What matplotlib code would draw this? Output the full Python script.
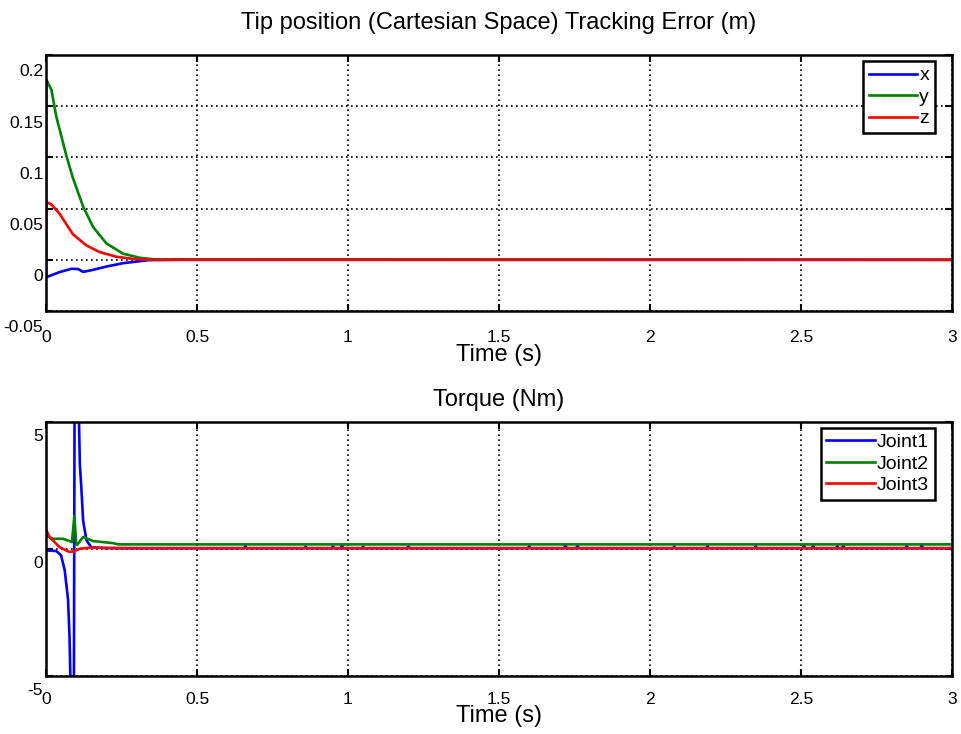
import matplotlib
matplotlib.use('Agg')
import matplotlib.pyplot as plt
from matplotlib.transforms import ScaledTranslation

plt.rcParams['font.family'] = ['Liberation Sans', 'DejaVu Sans']

# Tracking error (m)
t_x = [0, 0.001, 0.045, 0.084, 0.106, 0.123, 0.156, 0.2, 0.255, 0.31, 0.34, 0.45, 3.0]
err_x = [0, -0.017, -0.012, -0.0088, -0.009, -0.0118, -0.0098, -0.0066, -0.0033, -0.0014, -0.0003, 0, 0]

t_y = [0, 0.001, 0.018, 0.034, 0.068, 0.089, 0.123, 0.156, 0.2, 0.255, 0.31, 0.36, 3.0]
err_y = [0, 0.176, 0.166, 0.140, 0.101, 0.080, 0.052, 0.032, 0.016, 0.006, 0.002, 0.0004, 0]

t_z = [0, 0.001, 0.018, 0.045, 0.089, 0.134, 0.178, 0.233, 0.29, 0.35, 3.0]
err_z = [0, 0.0565, 0.054, 0.045, 0.025, 0.014, 0.0075, 0.003, 0.0008, 0, 0]

# Torque (Nm)
t_j1 = [0, 0.034, 0.05, 0.062, 0.073, 0.078, 0.0815, 0.083, 0.092, 0.095, 0.107, 0.109,
        0.112, 0.117, 0.123, 0.134, 0.15, 0.2]
tau_j1 = [-0.07, -0.09, -0.26, -0.85, -2.0, -3.5, -5.5, -8, -8, 8, 8, 5.2,
          3.35, 2.4, 1.1, 0.33, 0.06, 0.02]
j1_final = 0.02
blip_t = [0.66, 0.86, 0.95, 0.98, 1.05, 1.2, 1.6, 1.72, 1.76, 2.08, 2.19, 2.35,
          2.51, 2.54, 2.62, 2.64, 2.85, 2.9]
blip_h = [0.08, 0.06, 0.08, 0.1, 0.06, 0.08, 0.08, 0.12, 0.1, 0.06, 0.08, 0.08,
          0.1, 0.1, 0.08, 0.1, 0.1, 0.12]

t_j2 = [0, 0.023, 0.056, 0.078, 0.086, 0.094, 0.1, 0.103, 0.123, 0.156, 0.222, 0.24, 3.0]
tau_j2 = [0.52, 0.39, 0.39, 0.30, 0.26, 1.3, 0.2, 0.15, 0.46, 0.30, 0.22, 0.17, 0.17]

t_j3 = [0, 0.012, 0.045, 0.078, 0.095, 0.112, 0.145, 0.3, 3.0]
tau_j3 = [0.75, 0.46, 0.06, -0.13, -0.09, 0, 0.04, 0.02, 0.02]

xticks = [0, 0.5, 1, 1.5, 2, 2.5, 3]
xticklabels = ['0', '0.5', '1', '1.5', '2', '2.5', '3']
yticks_top = [-0.05, 0, 0.05, 0.1, 0.15, 0.2]
yticklabels_top = ['-0.05', '0', '0.05', '0.1', '0.15', '0.2']
yticks_bot = [-5, 0, 5]
yticklabels_bot = ['-5', '0', '5']

# joint 1 with the small blips in the flat part
t_j1_full = list(t_j1)
tau_j1_full = list(tau_j1)
for bt, bh in zip(blip_t, blip_h):
    t_j1_full += [bt - 0.004, bt, bt + 0.004]
    tau_j1_full += [j1_final, j1_final + bh, j1_final]
t_j1_full.append(3.0)
tau_j1_full.append(j1_final)

BLUE = (0, 0, 1)
GREEN = (0, 0.5, 0)
RED = (1, 0, 0)
LW = 1.9

fig = plt.figure(figsize=(9.61, 7.34), dpi=100)
ax1 = fig.add_axes([46 / 961, 1 - 311 / 734, 906 / 961, 256 / 734])
ax2 = fig.add_axes([46 / 961, 1 - 675.7 / 734, 906 / 961, 254 / 734])


def style_axes(ax, yticks, yticklabels, ylim, ydrop, xpad):
    ax.set_xlim(0, 3)
    ax.set_ylim(*ylim)
    ax.set_xticks(xticks)
    ax.set_xticklabels(xticklabels)
    ax.set_yticks(yticks)
    ax.set_yticklabels(yticklabels)
    ax.grid(True, color='black', linestyle=(0, (1, 2)), linewidth=1.2)
    ax.set_axisbelow(True)
    ax.tick_params(direction='in', length=5, width=1.5, top=True, right=True,
                   labelsize=12.5, colors='black')
    ax.tick_params(axis='y', pad=2)
    ax.tick_params(axis='x', pad=xpad)
    for s in ax.spines.values():
        s.set_linewidth(1.8)
    # tick labels sit a bit below their ticks, as in the original export
    off = ScaledTranslation(0, -ydrop / 100, fig.dpi_scale_trans)
    for lab in ax.get_yticklabels():
        lab.set_transform(lab.get_transform() + off)


ax1.plot(t_x, err_x, color=BLUE, lw=LW, label='x')
ax1.plot(t_y, err_y, color=GREEN, lw=LW, label='y')
ax1.plot(t_z, err_z, color=RED, lw=LW, label='z')
style_axes(ax1, yticks_top, yticklabels_top, (-0.05, 0.2), 15.5, 14)
ax1.set_title('Tip position (Cartesian Space) Tracking Error (m)', fontsize=17, pad=19)
ax1.set_xlabel('Time (s)', fontsize=17, labelpad=-1)

ax2.plot(t_j1_full, tau_j1_full, color=BLUE, lw=LW, label='Joint1')
ax2.plot(t_j2, tau_j2, color=GREEN, lw=LW, label='Joint2')
ax2.plot(t_j3, tau_j3, color=RED, lw=LW, label='Joint3')
style_axes(ax2, yticks_bot, yticklabels_bot, (-5, 5), 13.5, 11.5)
ax2.set_title('Torque (Nm)', fontsize=17, pad=11)
ax2.set_xlabel('Time (s)', fontsize=17, labelpad=-1)

for ax in (ax1, ax2):
    bb = ax.get_position()
    w_px = bb.width * 961
    h_px = bb.height * 734
    leg = ax.legend(loc='upper right', bbox_to_anchor=(1 - 17 / w_px, 1 - 6 / h_px),
                    borderaxespad=0, fancybox=False, edgecolor='black', framealpha=1,
                    fontsize=14, handlelength=2.5, handletextpad=0.1,
                    labelspacing=0.2, borderpad=0.3)
    leg.get_frame().set_linewidth(1.8)

fig.savefig('out.png', dpi=100)
